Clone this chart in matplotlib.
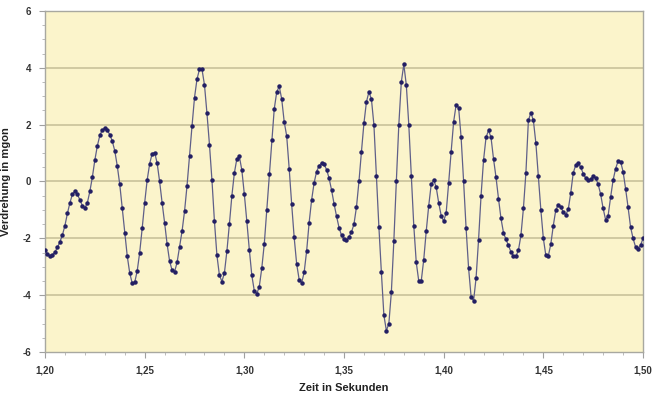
import matplotlib
matplotlib.use("Agg")
import matplotlib.pyplot as plt
from matplotlib.ticker import FuncFormatter, MultipleLocator
import numpy as np

# Abtastung: 800 Hz, 1,20 s bis 1,50 s
t_start = 1.20
dt = 0.00125

verdrehung = [
    -2.40, -2.55, -2.62, -2.58, -2.48, -2.32, -2.12, -1.88, -1.55, -1.12,
    -0.75, -0.45, -0.35, -0.45, -0.65, -0.85, -0.93, -0.75, -0.35, 0.15,
    0.75, 1.25, 1.62, 1.82, 1.87, 1.80, 1.65, 1.42, 1.08, 0.55,
    -0.10, -0.95, -1.82, -2.62, -3.22, -3.58, -3.55, -3.15, -2.50, -1.65,
    -0.75, 0.05, 0.62, 0.98, 1.02, 0.65, 0.00, -0.75, -1.45, -2.20,
    -2.80, -3.12, -3.18, -2.85, -2.30, -1.75, -1.05, -0.15, 0.90, 1.95,
    2.95, 3.60, 3.95, 3.95, 3.40, 2.40, 1.30, 0.05, -1.40, -2.60,
    -3.30, -3.52, -3.22, -2.45, -1.50, -0.50, 0.30, 0.80, 0.88, 0.40,
    -0.45, -1.40, -2.40, -3.30, -3.85, -3.95, -3.70, -3.05, -2.20, -1.00,
    0.25, 1.45, 2.55, 3.15, 3.35, 2.90, 2.10, 1.60, 0.45, -0.80,
    -1.97, -2.90, -3.45, -3.57, -3.20, -2.45, -1.45, -0.65, -0.05, 0.35,
    0.55, 0.65, 0.60, 0.42, 0.12, -0.30, -0.78, -1.22, -1.62, -1.90,
    -2.03, -2.07, -1.95, -1.78, -1.50, -0.90, 0.00, 1.05, 2.05, 2.80,
    3.15, 2.90, 2.00, 0.20, -1.60, -3.20, -4.70, -5.25, -5.00, -3.90,
    -2.10, 0.00, 2.00, 3.50, 4.12, 3.40, 2.00, 0.20, -1.55, -2.85,
    -3.50, -3.50, -2.75, -1.75, -0.85, -0.10, 0.05, -0.20, -0.75, -1.20,
    -1.40, -1.10, -0.05, 1.05, 2.10, 2.70, 2.60, 1.55, 0.00, -1.65,
    -3.05, -4.05, -4.20, -3.40, -2.05, -0.50, 0.75, 1.55, 1.80, 1.55,
    0.80, 0.15, -0.60, -1.30, -1.80, -2.04, -2.25, -2.48, -2.62, -2.63,
    -2.42, -1.90, -0.95, 0.30, 2.15, 2.42, 2.15, 1.35, 0.20, -1.00,
    -2.00, -2.60, -2.62, -2.20, -1.55, -1.00, -0.82, -0.90, -1.08, -1.17,
    -0.98, -0.40, 0.30, 0.58, 0.65, 0.50, 0.28, 0.12, 0.05, 0.08,
    0.18, 0.12, -0.10, -0.45, -0.95, -1.35, -1.20, -0.55, 0.05, 0.45,
    0.72, 0.70, 0.35, -0.25, -0.90, -1.60, -2.00, -2.30, -2.38, -2.25,
    -2.00,
]
zeit = t_start + dt * np.arange(len(verdrehung))

x_ticks = [1.20, 1.25, 1.30, 1.35, 1.40, 1.45, 1.50]
y_ticks = [-6, -4, -2, 0, 2, 4, 6]

plt.rcParams['font.family'] = ['Liberation Sans', 'DejaVu Sans']

fig = plt.figure(figsize=(6.56, 3.98), dpi=100)
ax = fig.add_axes([0.0686, 0.1156, 0.9116, 0.8568])
ax.set_facecolor('#fbf4cb')

ax.plot(zeit, verdrehung, color='#5f5f88', lw=0.9, marker='o', ms=2.2,
        mfc='#231f63', mec='#231f63', zorder=3)

ax.set_xlim(1.20, 1.50)
ax.set_ylim(-6, 6)
ax.set_xticks(x_ticks)
ax.set_yticks(y_ticks)
ax.xaxis.set_minor_locator(MultipleLocator(0.01))
ax.yaxis.set_minor_locator(MultipleLocator(0.5))
ax.xaxis.set_major_formatter(FuncFormatter(lambda v, p: f"{v:.2f}".replace('.', ',')))
ax.yaxis.set_major_formatter(FuncFormatter(lambda v, p: f"{int(round(v))}"))

for y in y_ticks[1:-1]:
    ax.axhline(y, color='#c9c29a', lw=1.2, zorder=1)

for s in ax.spines.values():
    s.set_color('#a8a8a0')
    s.set_linewidth(1.0)

ax.tick_params(axis='both', which='major', length=4, color='#a0a0a0',
               labelsize=7, pad=6, direction='out')
ax.tick_params(axis='both', which='minor', length=2, color='#b0b0b0')
for lab in ax.get_xticklabels() + ax.get_yticklabels():
    lab.set_fontweight('bold')
    lab.set_color('#333333')

ax.set_xlabel('Zeit in Sekunden', fontsize=8, fontweight='bold', color='#222222', labelpad=5)
ax.set_ylabel('Verdrehung in mgon', fontsize=8, fontweight='bold', color='#222222', labelpad=8)

fig.savefig('out.png', dpi=100, facecolor='white')
